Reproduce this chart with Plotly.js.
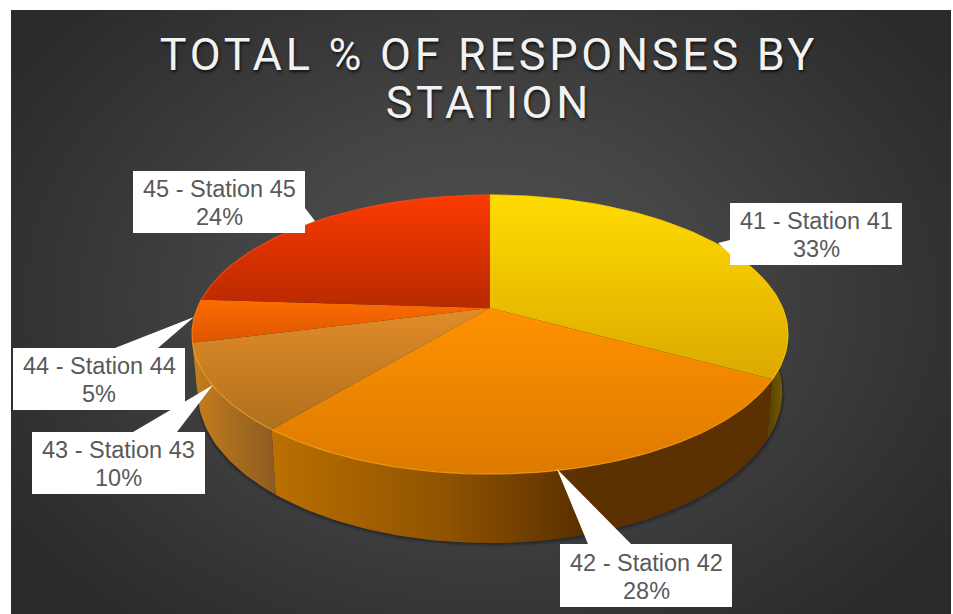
<!DOCTYPE html>
<html><head><meta charset="utf-8">
<script src="https://cdn.plot.ly/plotly-3.0.1.min.js"></script>
<style>
html,body{margin:0;padding:0;background:#fff;width:953px;height:614px;overflow:hidden}
#panel{position:absolute;left:11px;top:10px;width:940px;height:604px;background:radial-gradient(ellipse 560px 420px at 50% 48%,#525252 0%,#454545 40%,#333333 80%,#2b2b2b 100%)}
#chart{position:absolute;left:0;top:0;width:953px;height:614px}
.gtitle{letter-spacing:3.7px}
</style></head><body>
<div id="panel"></div><div id="chart"></div>
<script>
const codes=[41,42,43,44,45];
const shares=[33,28,10,5,24];
const topColors=[['#dca800','#ffdc00'],['#dc7a00','#ff9200'],['#b0701c','#e28c2a'],['#d95600','#ff6c00'],['#b82a00','#fb3a00']];
const wallScales=[
 [[0,'#5c4300'],[1,'#7c6c00']],
 [[0,'#bb7000'],[0.35,'#8e5200'],[0.6,'#5c3100'],[1,'#5a3000']],
 [[0,'#c47c1c'],[1,'#8e5e20']],
 [[0,'#c47c1c'],[1,'#c47c1c']]
];
const wallStops=[[770,790],[272,780],[195,272],[190,205]];
const rimColors=['#ffd000','#ffa010','#f0a030','#ff8010','#ff4a10'];
const chartTitle='TOTAL % OF RESPONSES BY<br>STATION';
// label callouts: box [x0,x1,y0,y1], pointer tip, pointer base
const callouts=[
 {box:[730,902,203,265],tip:[718,243],base:[[730,240],[730,254]],side:'left'},
 {box:[560,732,544,607],tip:[557,469],base:[[588,544],[631,544]],side:'top'},
 {box:[32,205,432,494],tip:[213,385],base:[[133,432],[177,432]],side:'top'},
 {box:[13,185,348,410],tip:[194,317],base:[[115,348],[158,348]],side:'top'},
 {box:[133,305,171,233],tip:[315,221],base:[[305,208],[305,225]],side:'right'}
];
// view of the pie in pixel axes
const view={cx:490,apexY:308,f:292.6,a:134.5,k:0.19,topCy:334.5,topRy:139.5,lowCy:392,lowRy:151,lowScale:0.981};
function project(deg){const t=deg*Math.PI/180,u=Math.sin(t),v=-Math.cos(t),w=1-view.k*v;
 return [view.cx+view.f*u/w,view.apexY+view.a*v/w];}
function lower(p){return [view.cx+(p[0]-view.cx)*view.lowScale,view.lowCy+(p[1]-view.topCy)*view.lowRy/view.topRy];}
function arc(a,b){const n=Math.max(4,Math.ceil(Math.abs(b-a)/1.5)),o=[];for(let i=0;i<=n;i++)o.push(project(a+(b-a)*i/n));return o;}
const total=shares.reduce((s,v)=>s+v,0);
let acc=0;const spans=shares.map(v=>{const s=[acc/total*360,(acc+v)/total*360];acc+=v;return s;});
const off={hoverinfo:'skip',showlegend:false,mode:'lines',type:'scatter'};
const traces=[];
// soft ground shadow
[[4,0.10],[2.5,0.16],[1.2,0.22]].forEach(([d,o])=>{
 const e=arc(0,360).map(lower).map(p=>[p[0]+(p[0]>view.cx?d*0.7:-d*0.3),p[1]+d]);
 traces.push({...off,x:e.map(p=>p[0]),y:e.map(p=>p[1]),fill:'toself',fillcolor:`rgba(10,15,30,${o})`,line:{width:0}});
});
// side walls
spans.forEach((s,i)=>{
 if(i===4)return;
 const up=arc(s[0],s[1]),lo=up.map(lower).reverse(),poly=up.concat(lo);
 traces.push({...off,x:poly.map(p=>p[0]),y:poly.map(p=>p[1]),fill:'toself',line:{width:0},
  fillgradient:{type:'horizontal',start:wallStops[i][0],stop:wallStops[i][1],colorscale:wallScales[i]}});
});
// top faces
spans.forEach((s,i)=>{
 const poly=[[view.cx,view.apexY]].concat(arc(s[0],s[1]));poly.push([view.cx,view.apexY]);
 const ys=poly.map(p=>p[1]);
 traces.push({...off,x:poly.map(p=>p[0]),y:ys,fill:'toself',line:{width:0},
  fillgradient:{type:'vertical',colorscale:[[0,topColors[i][0]],[1,topColors[i][1]]]}});
});
// rim highlight
spans.forEach((s,i)=>{
 const r=arc(s[0],s[1]);
 traces.push({...off,x:r.map(p=>p[0]),y:r.map(p=>p[1]),line:{width:1.2,color:rimColors[i]},opacity:0.8});
});
const shapes=callouts.map(c=>{
 const [x0,x1,y0,y1]=c.box;let d;
 const [a,b]=c.base,t=c.tip;
 if(c.side==='top')d=`M${x0},${y0}L${a[0]},${y0}L${t[0]},${t[1]}L${b[0]},${y0}L${x1},${y0}L${x1},${y1}L${x0},${y1}Z`;
 if(c.side==='left')d=`M${x0},${y0}L${x1},${y0}L${x1},${y1}L${x0},${y1}L${x0},${b[1]}L${t[0]},${t[1]}L${x0},${a[1]}Z`;
 if(c.side==='right')d=`M${x0},${y0}L${x1},${y0}L${x1},${a[1]}L${t[0]},${t[1]}L${x1},${b[1]}L${x1},${y1}L${x0},${y1}Z`;
 return {type:'path',path:d,xref:'x',yref:'y',fillcolor:'#ffffff',line:{width:0},layer:'above'};
});
const labelFont={family:'"Liberation Sans",Arial,sans-serif',size:23.5,color:'#595959'};
const annotations=[];
callouts.forEach((c,i)=>{
 const mx=(c.box[0]+c.box[1])/2,my=(c.box[2]+c.box[3])/2;
 annotations.push({x:mx,y:my-13,xref:'x',yref:'y',showarrow:false,text:`${codes[i]} - Station ${codes[i]}`,font:labelFont});
 annotations.push({x:mx,y:my+15,xref:'x',yref:'y',showarrow:false,text:`${shares[i]}%`,font:labelFont});
});
Plotly.newPlot('chart',traces,{
 width:953,height:614,margin:{l:0,r:0,t:0,b:0},
 paper_bgcolor:'rgba(0,0,0,0)',plot_bgcolor:'rgba(0,0,0,0)',
 xaxis:{range:[0,953],visible:false,fixedrange:true},
 yaxis:{range:[614,0],visible:false,fixedrange:true},
 title:{text:chartTitle,x:0.513,xanchor:'center',y:0.886,yanchor:'bottom',
  font:{family:'Roboto,sans-serif',size:45,color:'#f2f2f2',shadow:'1px 2px 3px rgba(0,0,0,0.7)'}},
 shapes,annotations
},{displayModeBar:false,staticPlot:true}).then(()=>{
 const lines=document.querySelectorAll('.gtitle .line');
 if(lines[1])lines[1].setAttribute('dy','1.07em');
});
</script></body></html>
